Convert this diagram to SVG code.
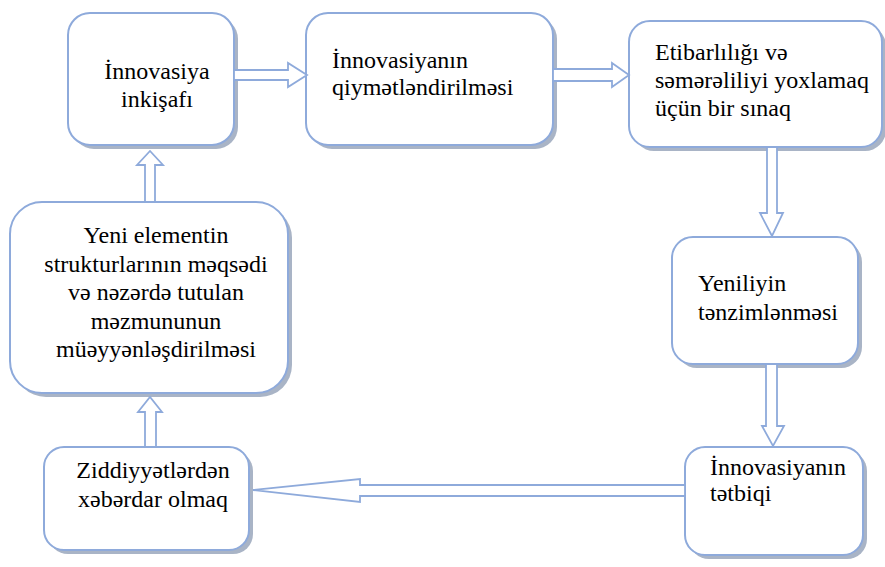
<svg xmlns="http://www.w3.org/2000/svg" width="885" height="567" viewBox="0 0 885 567" font-family="'Liberation Serif', 'Times New Roman', serif">
<style>
.box{fill:#ffffff;stroke:#8eaadb;stroke-width:2}
.shd{fill:#a9b4c6}
.arr{fill:#ffffff;stroke:#8eaadb;stroke-width:1.8;stroke-linejoin:miter}
.t{font-family:'Liberation Serif','Times New Roman',serif;font-size:24px;fill:#000000}
.c{text-anchor:middle}
</style>
<rect width="885" height="567" fill="#ffffff"/>
<g id="n1">
<rect class="shd" x="72" y="17" width="166" height="132" rx="22"/>
<rect class="box" x="68" y="13" width="166" height="132" rx="22"/>
<text class="t c" x="157" y="79">İnnovasiya</text>
<text class="t c" x="157" y="107">inkişafı</text>
</g>
<g id="n2">
<rect class="shd" x="310" y="17" width="247" height="132" rx="22"/>
<rect class="box" x="306" y="13" width="247" height="132" rx="22"/>
<text class="t" x="332" y="68">İnnovasiyanın</text>
<text class="t" x="332" y="95">qiymətləndirilməsi</text>
</g>
<g id="n3">
<rect class="shd" x="633" y="25" width="253" height="126" rx="21"/>
<rect class="box" x="629" y="21" width="253" height="126" rx="21"/>
<text class="t" x="655" y="60">Etibarlılığı və</text>
<text class="t" x="655" y="88">səmərəliliyi yoxlamaq</text>
<text class="t" x="655" y="116">üçün bir sınaq</text>
</g>
<g id="n4">
<rect class="shd" x="676" y="241" width="186" height="127" rx="21"/>
<rect class="box" x="672" y="237" width="186" height="127" rx="21"/>
<text class="t" x="698" y="291">Yeniliyin</text>
<text class="t" x="698" y="320">tənzimlənməsi</text>
</g>
<g id="n5">
<rect class="shd" x="689" y="451" width="178" height="108" rx="20"/>
<rect class="box" x="685" y="447" width="178" height="108" rx="20"/>
<text class="t" x="710" y="475">İnnovasiyanın</text>
<text class="t" x="710" y="501">tətbiqi</text>
</g>
<g id="n6">
<rect class="shd" x="48" y="451" width="205" height="103" rx="20"/>
<rect class="box" x="44" y="447" width="205" height="103" rx="20"/>
<text class="t c" x="153" y="478">Ziddiyyətlərdən</text>
<text class="t c" x="153" y="507">xəbərdar olmaq</text>
</g>
<g id="n7">
<rect class="shd" x="14" y="206" width="278" height="191" rx="32"/>
<rect class="box" x="10" y="202" width="278" height="191" rx="32"/>
<text class="t c" x="156" y="243">Yeni elementin</text>
<text class="t c" x="156" y="271.5">strukturlarının məqsədi</text>
<text class="t c" x="156" y="300">və nəzərdə tutulan</text>
<text class="t c" x="156" y="328.5">məzmununun</text>
<text class="t c" x="156" y="357">müəyyənləşdirilməsi</text>
</g>
<g id="connectors">
<polygon class="arr" points="234,70 288,70 288,63 307,75 288,87 288,80 234,80"/>
<polygon class="arr" points="553,69 612,69 612,63 629,75 612,87 612,81 553,81"/>
<polygon class="arr" points="767,147 767,213 760,213 772,236 783,213 777,213 777,147"/>
<polygon class="arr" points="766,364 766,426 762,426 773,446 784,426 777,426 777,364"/>
<polygon class="arr" points="685,485 360,485 360,479 253,490 360,502 360,496 685,496"/>
<polygon class="arr" points="145,447 145,412 138,412 150,397 162,412 156,412 156,447"/>
<polygon class="arr" points="145,202 145,165 137,165 150,151 163,165 155,165 155,202"/>
</g>
</svg>
